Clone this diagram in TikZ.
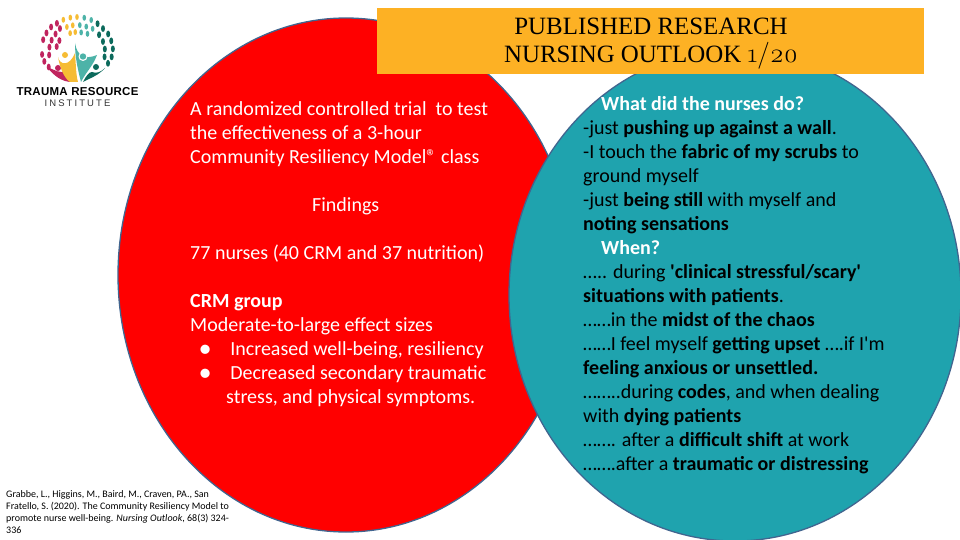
\documentclass[tikz,border=0pt]{standalone}
\usepackage{xcolor}
\usepackage{fontspec}
\setmainfont{Carlito}
\newfontfamily\bodyfont{Carlito}
\newfontfamily\titlefont{Liberation Serif}
\newfontfamily\oldnum[Numbers=OldStyle]{Latin Modern Roman}
\newfontfamily\logofont{Liberation Sans}
\usetikzlibrary{shapes.geometric, positioning}

\definecolor{ringblue}{HTML}{41658F}
\definecolor{tealfill}{HTML}{1FA3AE}
\definecolor{banner}{HTML}{FDB124}
\definecolor{logomag}{HTML}{C0245E}
\definecolor{logoyel}{HTML}{F6BC34}
\definecolor{logotea}{HTML}{4DB3A8}
\definecolor{logogrn}{HTML}{0C6A5C}

\begin{document}
\begin{tikzpicture}[
    x=1pt, y=-1pt,
    blob/.style={ellipse, draw=ringblue, line width=1.3pt, inner sep=0pt},
    body/.style={anchor=north west, align=left, inner sep=0pt, font=\bodyfont\fontsize{20}{24}\selectfont}
]
\useasboundingbox (0,0) rectangle (960,540);

\node[blob, fill=red, minimum width=456pt, minimum height=514pt] (redcircle) at (346,275) {};
\node[blob, fill=tealfill, minimum width=452pt, minimum height=492pt] (tealcircle) at (735,295) {};
\node[fill=banner, minimum width=547pt, minimum height=66pt, inner sep=0pt] (banner) at (650.5,41) {};
\node[align=center, inner sep=0pt, font=\titlefont\fontsize{24.9}{28}\selectfont] (title) at (651,44)
    {PUBLISHED RESEARCH\\NURSING OUTLOOK {\oldnum\fontsize{27}{28}\selectfont 1/20}};

% left circle
\node[body, text=white] (study) at (190,101) {%
A randomized controlled trial\ \ to test\\
the effectiveness of a 3-hour\\
Community Resiliency Model® class\\
\mbox{}\\
\hspace*{122pt}Findings\\
\mbox{}\\
77 nurses (40 CRM and 37 nutrition)\\
\mbox{}\\
\textbf{CRM group}\\
Moderate-to-large effect sizes\\
\hspace*{9pt}●\hspace*{19pt}Increased well-being, resiliency\\
\hspace*{9pt}●\hspace*{19pt}Decreased secondary traumatic\\
\hspace*{36pt}stress, and physical symptoms.};

% right circle
\node[body] (nurses) at (583,96) {%
\hspace*{18pt}\textcolor{white}{\textbf{What did the nurses do?}}\\
-just \textbf{pushing up against a wall}.\\
-I touch the \textbf{fabric of my scrubs} to\\
ground myself\\
-just \textbf{being still} with myself and\\
\textbf{noting sensations}\\
\hspace*{18pt}\textcolor{white}{\textbf{When?}}\\
….. during \textbf{'clinical stressful/scary'}\\
\textbf{situations with patients}.\\
……in the \textbf{midst of the chaos}\\
……I feel myself \textbf{getting upset} ….if I'm\\
\textbf{feeling anxious or unsettled.}\\
……..during \textbf{codes}, and when dealing\\
with \textbf{dying patients}\\
……. after a \textbf{difficult shift} at work\\
…….after a \textbf{traumatic or distressing}};

\node[anchor=north west, align=left, inner sep=0pt, font=\bodyfont\fontsize{10}{12}\selectfont] (citation) at (6,490) {%
Grabbe, L., Higgins, M., Baird, M., Craven, PA., San\\
Fratello, S. (2020). The Community Resiliency Model to\\
promote nurse well-being. \textit{Nursing Outlook}, 68(3) 324-\\
336};

% logo
\foreach \ang/\rad in {160/36,148/36,136/36,125/35,184/35,196/34,208/32,170/28,155/28,140/28,126/29,186/28,165/21,147/21}
    \fill[logomag] (77,52) ++(\ang:\rad pt) ellipse (2 and 3.4);
\foreach \ang/\rad in {113/35,101/35,90/35,112/27,99/27,110/20,95/20}
    \fill[logoyel] (77,52) ++(\ang:\rad pt) ellipse (1.8 and 3);
\foreach \ang/\rad in {78/35,66/35,84/27,70/27,56/28,78/20,60/21}
    \fill[logotea] (77,52) ++(\ang:\rad pt) ellipse (1.8 and 3);
\foreach \ang/\rad in {54/35,42/35,30/36,18/36,5/36,-8/35,-20/33,38/28,22/28,6/28,-10/28}
    \fill[logogrn] (77,52) ++(\ang:\rad pt) ellipse (2 and 3.4);

\fill[logomag] (47,67) .. controls (55,70) and (60,74) .. (67,71) -- (72,82) .. controls (62,82) and (54,76) .. cycle;
\fill[logomag] (58,68) circle (3);
\fill[logoyel] (58,57) .. controls (60,66) and (70,66) .. (75,53) .. controls (76,66) and (76,75) .. (78,82) -- (70,82) .. controls (64,78) and (60,68) .. cycle;
\fill[white] (65,55) circle (4.5);
\fill[logoyel] (65,55) circle (3);
\fill[logotea] (75,43) .. controls (77,56) and (85,60) .. (97,55) .. controls (93,66) and (86,72) .. (81,82) .. controls (78,70) and (75,58) .. cycle;
\fill[white] (83,56.5) circle (4.5);
\fill[logotea] (83,56.5) circle (3.2);
\fill[logogrn] (105,68) .. controls (98,76) and (90,78) .. (83,82) .. controls (86,76) and (89,72) .. (92,72) .. controls (96,74) and (101,72) .. cycle;
\fill[logogrn] (96,67) circle (3);

\node[inner sep=0pt, font=\logofont\bfseries\fontsize{11.5}{12}\selectfont\addfontfeature{LetterSpace=2.5}] (logoname) at (77.5,92) {TRAUMA RESOURCE};
\node[below=3.5pt of logoname, inner sep=0pt, font=\logofont\fontsize{9.5}{10}\selectfont\addfontfeature{LetterSpace=22}, text=black!80] (logosub) {INSTITUTE};
\end{tikzpicture}
\end{document}
